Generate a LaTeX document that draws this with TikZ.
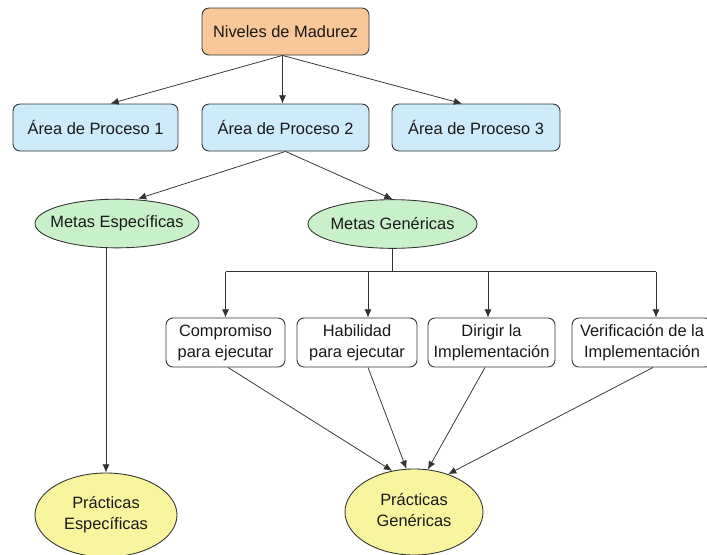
\documentclass[tikz,border=0pt]{standalone}
\usepackage{fontspec}
\setmainfont{Liberation Sans}
\usetikzlibrary{shapes.geometric,arrows.meta,calc}

\definecolor{nivnaranja}{HTML}{F9C89A}
\definecolor{areaazul}{HTML}{CDEBFA}
\definecolor{metaverde}{HTML}{C9F1C9}
\definecolor{practamarillo}{HTML}{F9F59F}
\definecolor{borde}{HTML}{333333}

\newcommand{\sinancho}[1]{\makebox[0pt]{#1}}

\begin{document}
\begin{tikzpicture}[x=0.03cm, y=-0.03cm,
    font=\fontsize{14}{18}\selectfont, text=black!90,
    caja/.style={draw=borde, line width=0.75pt, rounded corners=6pt, inner sep=0pt,
                 align=center, minimum height=1.41cm},
    tarea/.style={caja, fill=white, minimum height=1.47cm},
    meta/.style={ellipse, draw=borde, line width=0.75pt, fill=metaverde, inner sep=0pt,
                 minimum height=1.46cm},
    practica/.style={ellipse, draw=borde, line width=0.75pt, fill=practamarillo, inner sep=0pt},
    flecha/.style={draw=borde, line width=0.65pt, -{Latex[length=7pt,width=6pt]}}]

    % Canvas
    \useasboundingbox[fill=white] (0,0) rectangle (707,554);

    % Top levels
    \node[caja, fill=nivnaranja, minimum width=5.01cm] (niv) at (285.5,31.5) {Niveles de Madurez};
    \node[caja, fill=areaazul, minimum width=4.95cm] (a1) at (95.5,127.5) {Área de Proceso 1};
    \node[caja, fill=areaazul, minimum width=5.01cm] (a2) at (285.5,127.5) {Área de Proceso 2};
    \node[caja, fill=areaazul, minimum width=5.04cm] (a3) at (476,127.5) {Área de Proceso 3};

    % Goals
    \node[meta, minimum width=4.92cm] (me) at (117,223.5) {\sinancho{Metas Específicas}};
    \node[meta, minimum width=5.07cm] (mg) at (392.5,224) {\sinancho{Metas Genéricas}};

    % Generic practice groups
    \node[tarea, minimum width=3.57cm] (c1) at (225.5,342.5) {Compromiso\\para ejecutar};
    \node[tarea, minimum width=3.6cm] (c2) at (357,342.5) {Habilidad\\para ejecutar};
    \node[tarea, minimum width=3.81cm] (c3) at (491.5,342.5) {Dirigir la\\Implementación};
    \node[tarea, minimum width=4.2cm] (c4) at (642,342.5) {Verificación de la\\Implementación};

    % Practices
    \node[practica, minimum width=4.26cm, minimum height=2.52cm] (pe) at (106,515)
        {\sinancho{\begin{tabular}{@{}c@{}}Prácticas\\Específicas\end{tabular}}};
    \node[practica, minimum width=4.14cm, minimum height=2.58cm] (pg) at (414,512)
        {\sinancho{\begin{tabular}{@{}c@{}}Prácticas\\Genéricas\end{tabular}}};

    % Levels to areas
    \coordinate (nb) at ($(niv.south)+(-3,0)$);
    \draw[flecha] (nb) -- ($(a1.north)+(15,0)$);
    \draw[flecha] (nb) -- (nb |- a2.north);
    \draw[flecha] (nb) -- ($(a3.north)+(-14,0)$);

    % Area to goals
    \draw[flecha] (a2.south) -- ($(me.north)+(21,0)$);
    \draw[flecha] (a2.south) -- (mg.north);
    \draw[flecha] (pe.north |- me.south) -- (pe.north);

    % Bar under generic goals
    \coordinate (barra) at ($(mg.south)+(0,23)$);
    \coordinate (e1) at (c1.north);
    \coordinate (e2) at ($(c2.north)+(11,0)$);
    \coordinate (e3) at ($(c3.north)+(-3.5,0)$);
    \coordinate (e4) at ($(c4.north)+(14,0)$);
    \draw[borde, line width=0.65pt] (mg.south) -- (barra);
    \draw[borde, line width=0.65pt] (barra -| e1) -- (barra -| e4);
    \foreach \e in {e1,e2,e3,e4}
        \draw[flecha] (barra -| \e) -- (\e);

    % Groups to generic practices
    \coordinate (s1) at ($(c1.south)+(2.5,0)$);
    \coordinate (s2) at ($(c2.south)+(11,0)$);
    \coordinate (s3) at ($(c3.south)+(-6.5,0)$);
    \coordinate (s4) at ($(c4.south)+(11,0)$);
    \foreach \s/\a in {s1/118, s2/100, s3/72, s4/48}
        \draw[flecha] (\s) -- (pg.\a);
\end{tikzpicture}
\end{document}
